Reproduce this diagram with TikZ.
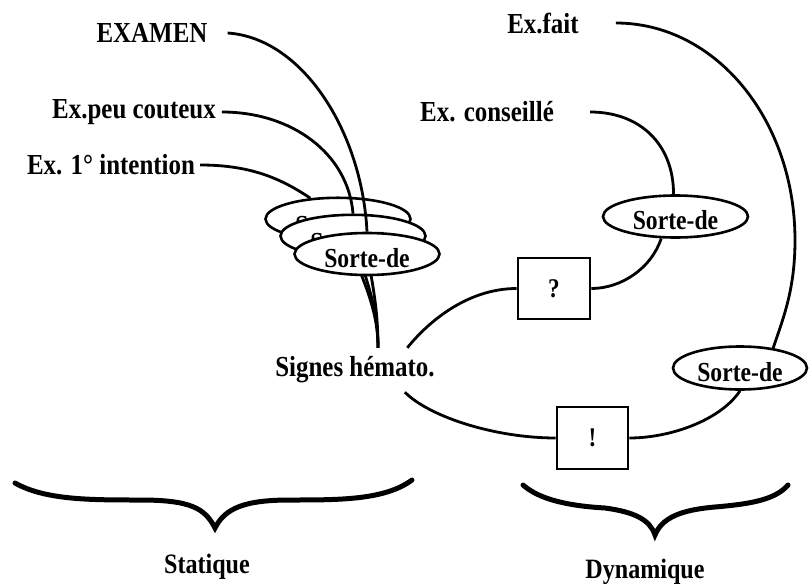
\documentclass[tikz,border=0pt]{standalone}
\usepackage{fontspec}
\setmainfont{Liberation Serif}
\newfontfamily\cfont{Liberation Serif}[FakeStretch=0.86]
\usetikzlibrary{shapes.geometric,backgrounds}
\begin{document}
\begin{tikzpicture}[x=1pt,y=-1pt,
  lab/.style={font=\cfont\bfseries\fontsize{29}{32}\selectfont, inner sep=0pt},
  sorte/.style={ellipse, draw, line width=2.6pt, fill=white, minimum width=145pt,
    minimum height=42pt, inner sep=0pt, text height=26pt, text depth=0pt,
    font=\cfont\bfseries\fontsize{27.5}{30}\selectfont},
  hidden/.style={text height=30pt},
  boxn/.style={draw, line width=2.6pt, fill=white, minimum width=72pt,
    minimum height=61pt, inner sep=0pt, font=\cfont\bfseries\fontsize{27}{30}\selectfont},
  conn/.style={line width=2.8pt},
  brace/.style={line width=5pt, line cap=round, line join=miter}]
\useasboundingbox (0,0) rectangle (809,584);
% labels
\node[lab] (examen) at (152,33) {EXAMEN};
\node[lab] (peu) at (134,112) {Ex.peu couteux};
\node[lab] (int) at (111,165) {Ex. 1° intention};
\node[lab] (fait) at (543,23) {Ex.fait};
\node[lab] (cons) at (487,112) {Ex. conseillé};
\node[lab, minimum width=165pt, minimum height=44pt] (sig) at (355,370) {Signes hémato.};
\node[lab, font=\cfont\bfseries\fontsize{28}{30}\selectfont] (stat) at (207,567) {Statique};
\node[lab, font=\cfont\bfseries\fontsize{28}{30}\selectfont] (dyn) at (645,572) {Dynamique};
% stacked ellipses
\node[sorte, hidden] (back) at (338,219) {Sorte-de};
\node[sorte, hidden] (mid) at (353,236) {Sorte-de};
\node[sorte] (front) at (367,254) {Sorte-de};
% right ellipses and boxes
\node[sorte] (sd1) at (675.5,216.5) {Sorte-de};
\node[sorte, minimum width=134pt, minimum height=43pt] (sd2) at (740,368) {Sorte-de};
\node[boxn] (q) at (554,288.5) {?};
\node[boxn, minimum width=71pt, minimum height=62pt] (ex) at (592.5,438) {!};
% wedge lines behind the ellipses
\begin{pgfonlayer}{background}
\draw[conn] (back.center) .. controls +(25,60) and +(0,-40) .. (sig.44);
\draw[conn] (mid.center) .. controls +(15,50) and +(0,-40) .. (sig.44);
\draw[conn] (front.center) .. controls +(8,40) and +(0,-30) .. (sig.44);
\end{pgfonlayer}
% left connectors
\draw[conn] ([xshift=20pt]examen.east) .. controls +(75,5) and +(-5,-100) .. (front.north);
\draw[conn] ([xshift=6pt]peu.east) .. controls +(70,0) and +(-5,-60) .. (mid.north);
\draw[conn] ([xshift=5pt]int.east) .. controls +(50,0) and +(-30,-20) .. (back.143);
% right connectors
\draw[conn] ([xshift=36pt]cons.east) .. controls +(50,0) and +(0,-50) .. (sd1.95);
\draw[conn] (sd1.237) .. controls +(-10,30) and +(30,0) .. (q.east);
\draw[conn] (q.west) .. controls +(-50,0) and +(20,-25) .. (sig.23);
\draw[conn] ([xshift=37pt]fait.east) .. controls +(100,0) and +(0,-120) .. (795,240)
  .. controls +(0,50) and +(10,-30) .. (sd2.31);
\draw[conn] (sd2.south) .. controls +(-20,30) and +(40,0) .. (ex.east);
\draw[conn] (ex.west) .. controls +(-60,0) and +(25,25) .. (sig.-24);
% braces
\draw[brace] (15,483) .. controls (45,500) and (90,500) .. (140,500)
  .. controls (190,500) and (205,508) .. (215,528)
  .. controls (225,508) and (245,500) .. (290,500)
  .. controls (340,500) and (385,500) .. (412,480);
\draw[brace] (523,485) .. controls (540,500) and (570,506) .. (605,508)
  .. controls (635,512) and (650,520) .. (655,535)
  .. controls (662,518) and (680,510) .. (715,507)
  .. controls (750,504) and (775,500) .. (788,485);
\end{tikzpicture}
\end{document}
